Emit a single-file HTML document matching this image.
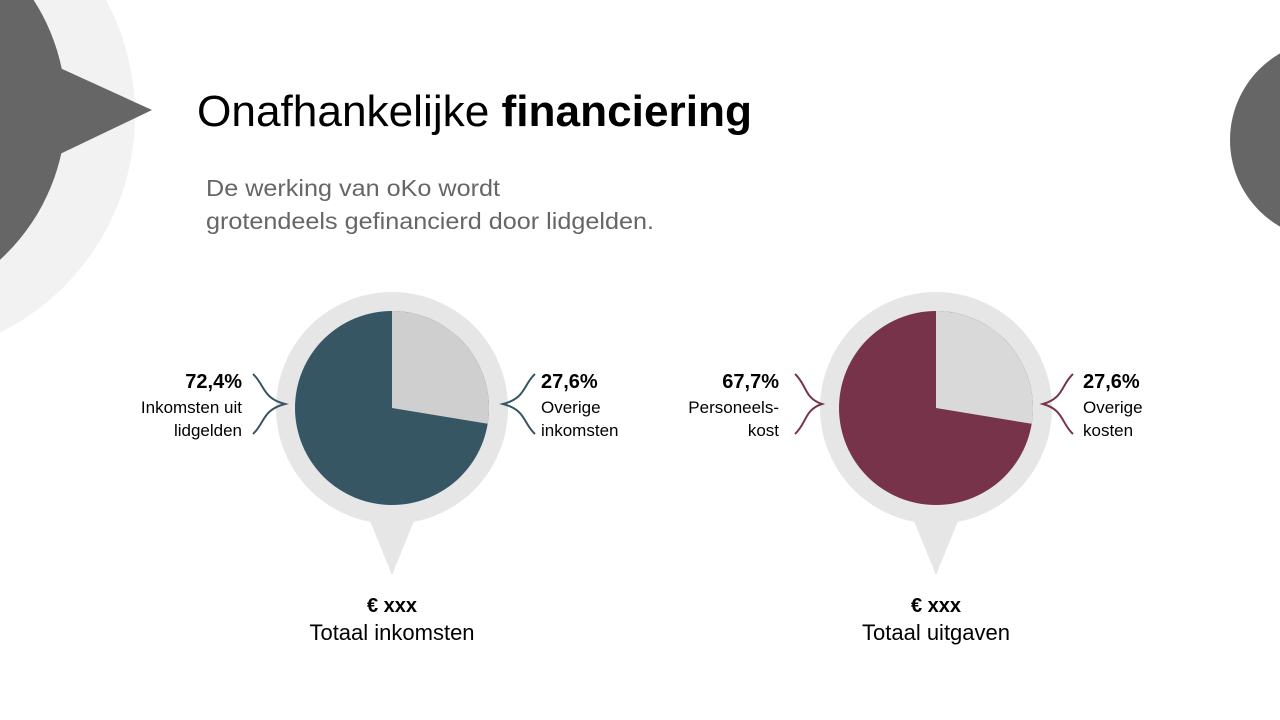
<!DOCTYPE html>
<html><head><meta charset="utf-8"><style>
html,body{margin:0;padding:0;background:#fff;}
svg{display:block;font-family:"Liberation Sans",sans-serif;}
</style></head><body>
<svg width="1280" height="720" viewBox="0 0 1280 720" xmlns="http://www.w3.org/2000/svg">
<rect width="1280" height="720" fill="#fff"/>
<circle cx="-108" cy="115" r="243" fill="#f2f2f2"/>
<circle cx="-137" cy="110" r="203" fill="#666"/>
<polygon points="60,68 152,110 60,154" fill="#666"/>
<circle cx="1330" cy="140" r="100" fill="#666"/>

<text x="197" y="126" font-size="44" fill="#000" textLength="555" lengthAdjust="spacingAndGlyphs">Onafhankelijke <tspan font-weight="bold">financiering</tspan></text>
<text x="206" y="196" font-size="23" fill="#666" textLength="294" lengthAdjust="spacingAndGlyphs">De werking van oKo wordt</text>
<text x="206" y="229" font-size="23" fill="#666" textLength="448" lengthAdjust="spacingAndGlyphs">grotendeels gefinancierd door lidgelden.</text>

<!-- left pie -->
<g transform="translate(392,408)">
<circle r="116" fill="#e6e6e6"/>
<polygon points="-24,108 24,108 0,167" fill="#e6e6e6"/>
<circle r="97" fill="#365663"/>
<path d="M0,0 L0,-97 A97,97 0 0 1 95.7,15.8 Z" fill="#d0cfd0"/>
</g>
<path d="M253,374 C265,385 262,398 285,404 C262,410 265,423 253,434" fill="none" stroke="#365663" stroke-width="2"/>
<path d="M535,374 C523,385 526,398 503,404 C526,410 523,423 535,434" fill="none" stroke="#365663" stroke-width="2"/>
<g font-size="17" fill="#000">
<text x="242" y="388" text-anchor="end" font-weight="bold" font-size="20">72,4%</text>
<text x="242" y="413" text-anchor="end">Inkomsten uit</text>
<text x="242" y="436" text-anchor="end">lidgelden</text>
<text x="541" y="388" font-weight="bold" font-size="20">27,6%</text>
<text x="541" y="413">Overige</text>
<text x="541" y="436">inkomsten</text>
<text x="392" y="612" text-anchor="middle" font-weight="bold" font-size="20">€ xxx</text>
<text x="392" y="640" text-anchor="middle" font-size="22">Totaal inkomsten</text>
</g>

<!-- right pie -->
<g transform="translate(936,408)">
<circle r="116" fill="#e6e6e6"/>
<polygon points="-24,108 24,108 0,167" fill="#e6e6e6"/>
<circle r="97" fill="#77334a"/>
<path d="M0,0 L0,-97 A97,97 0 0 1 95.7,15.8 Z" fill="#d9d9d9"/>
</g>
<path d="M795,374 C807,385 804,398 822,404 C804,410 807,423 795,434" fill="none" stroke="#77334a" stroke-width="2"/>
<path d="M1073,374 C1061,385 1064,398 1043,404 C1064,410 1061,423 1073,434" fill="none" stroke="#77334a" stroke-width="2"/>
<g font-size="17" fill="#000">
<text x="779" y="388" text-anchor="end" font-weight="bold" font-size="20">67,7%</text>
<text x="779" y="413" text-anchor="end">Personeels-</text>
<text x="779" y="436" text-anchor="end">kost</text>
<text x="1083" y="388" font-weight="bold" font-size="20">27,6%</text>
<text x="1083" y="413">Overige</text>
<text x="1083" y="436">kosten</text>
<text x="936" y="612" text-anchor="middle" font-weight="bold" font-size="20">€ xxx</text>
<text x="936" y="640" text-anchor="middle" font-size="22">Totaal uitgaven</text>
</g>
</svg>
</body></html>
